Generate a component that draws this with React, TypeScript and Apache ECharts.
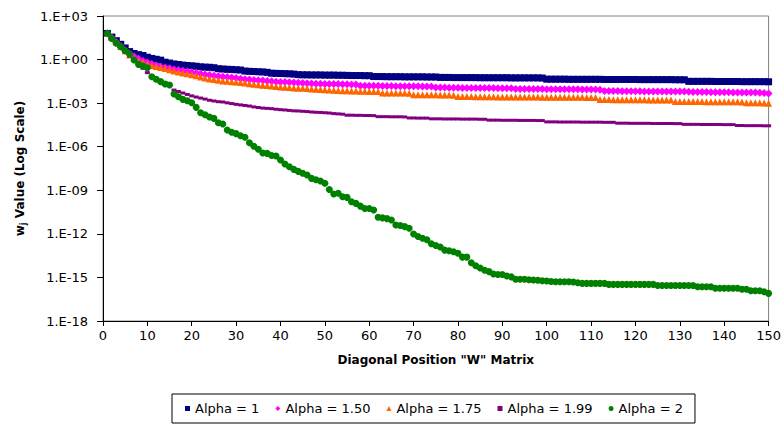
import React, { useEffect, useRef } from "react";
import * as echarts from "echarts";

// Series names (legend)
const seriesNames = ["Alpha = 1", "Alpha = 1.50", "Alpha = 1.75", "Alpha = 1.99", "Alpha = 2"];

// x tick values
const xTicks = [0, 10, 20, 30, 40, 50, 60, 70, 80, 90, 100, 110, 120, 130, 140, 150];

// log10 of w_j, diagonal positions 1..150
const alpha1Log = [
  1.8, 1.55, 1.3, 1.05, 0.8, 0.55, 0.42, 0.34, 0.28, 0.16,
  0.08, 0.02, -0.04, -0.18, -0.24, -0.3, -0.34, -0.38, -0.41, -0.43,
  -0.46, -0.5, -0.52, -0.53, -0.56, -0.63, -0.65, -0.67, -0.68, -0.7,
  -0.72, -0.79, -0.81, -0.82, -0.84, -0.85, -0.88, -0.94, -0.95, -0.96,
  -0.97, -0.98, -1.0, -1.04, -1.05, -1.05, -1.06, -1.06, -1.06, -1.07,
  -1.07, -1.07, -1.08, -1.08, -1.09, -1.1, -1.1, -1.1, -1.11, -1.11,
  -1.17, -1.17, -1.17, -1.18, -1.18, -1.18, -1.18, -1.19, -1.19, -1.19,
  -1.19, -1.19, -1.2, -1.2, -1.2, -1.23, -1.23, -1.23, -1.24, -1.24,
  -1.24, -1.24, -1.24, -1.24, -1.25, -1.25, -1.25, -1.25, -1.25, -1.25,
  -1.25, -1.26, -1.26, -1.26, -1.26, -1.26, -1.26, -1.26, -1.27, -1.35,
  -1.35, -1.35, -1.35, -1.35, -1.36, -1.36, -1.36, -1.36, -1.36, -1.36,
  -1.36, -1.36, -1.37, -1.37, -1.37, -1.37, -1.37, -1.37, -1.37, -1.37,
  -1.38, -1.38, -1.38, -1.38, -1.38, -1.38, -1.38, -1.38, -1.39, -1.39,
  -1.39, -1.5, -1.5, -1.5, -1.5, -1.5, -1.5, -1.51, -1.51, -1.51,
  -1.51, -1.51, -1.51, -1.52, -1.52, -1.52, -1.52, -1.52, -1.52, -1.53,
];

const alpha150Log = [
  1.8, 1.5, 1.2, 0.92, 0.62, 0.38, 0.22, 0.05, -0.1, -0.2,
  -0.3, -0.4, -0.5, -0.55, -0.6, -0.68, -0.72, -0.77, -0.82, -0.87,
  -0.92, -0.97, -1.02, -1.07, -1.12, -1.15, -1.18, -1.2, -1.23, -1.27,
  -1.32, -1.36, -1.38, -1.4, -1.42, -1.44, -1.47, -1.5, -1.52, -1.54,
  -1.55, -1.56, -1.58, -1.6, -1.61, -1.63, -1.65, -1.66, -1.67, -1.68,
  -1.68, -1.69, -1.69, -1.7, -1.7, -1.71, -1.72, -1.8, -1.8, -1.81,
  -1.81, -1.81, -1.82, -1.82, -1.82, -1.83, -1.83, -1.83, -1.84, -1.84,
  -1.84, -1.85, -1.85, -1.86, -1.93, -1.93, -1.93, -1.94, -1.94, -1.94,
  -1.95, -1.95, -1.95, -1.95, -1.96, -1.96, -1.96, -1.96, -1.97, -1.97,
  -1.97, -1.98, -2.02, -2.02, -2.02, -2.03, -2.03, -2.03, -2.03, -2.04,
  -2.04, -2.04, -2.04, -2.05, -2.05, -2.05, -2.05, -2.06, -2.06, -2.06,
  -2.06, -2.07, -2.17, -2.17, -2.17, -2.17, -2.18, -2.18, -2.18, -2.18,
  -2.18, -2.19, -2.19, -2.19, -2.19, -2.19, -2.2, -2.2, -2.2, -2.2,
  -2.2, -2.21, -2.24, -2.24, -2.24, -2.24, -2.25, -2.25, -2.25, -2.25,
  -2.25, -2.26, -2.26, -2.26, -2.26, -2.27, -2.27, -2.28, -2.3, -2.33,
];

const alpha175Log = [
  1.8, 1.5, 1.2, 0.9, 0.6, 0.32, 0.08, -0.1, -0.2, -0.3,
  -0.4, -0.47, -0.55, -0.62, -0.7, -0.78, -0.85, -0.92, -0.98, -1.05,
  -1.12, -1.2, -1.27, -1.33, -1.38, -1.43, -1.47, -1.5, -1.52, -1.55,
  -1.58, -1.62, -1.66, -1.7, -1.73, -1.76, -1.79, -1.82, -1.85, -1.88,
  -1.91, -1.93, -1.95, -1.97, -1.98, -2.0, -2.02, -2.04, -2.06, -2.08,
  -2.1, -2.11, -2.13, -2.14, -2.15, -2.17, -2.17, -2.18, -2.18, -2.19,
  -2.19, -2.2, -2.3, -2.3, -2.3, -2.31, -2.31, -2.31, -2.32, -2.42,
  -2.42, -2.42, -2.43, -2.43, -2.43, -2.44, -2.44, -2.44, -2.45, -2.55,
  -2.55, -2.55, -2.55, -2.56, -2.56, -2.56, -2.56, -2.56, -2.57, -2.57,
  -2.57, -2.57, -2.57, -2.58, -2.58, -2.58, -2.58, -2.58, -2.59, -2.59,
  -2.59, -2.59, -2.59, -2.6, -2.6, -2.6, -2.6, -2.6, -2.61, -2.61,
  -2.61, -2.75, -2.75, -2.75, -2.76, -2.76, -2.76, -2.76, -2.77, -2.77,
  -2.77, -2.77, -2.78, -2.78, -2.78, -2.78, -2.79, -2.79, -2.88, -2.88,
  -2.88, -2.89, -2.89, -2.89, -2.89, -2.9, -2.9, -2.9, -2.9, -2.91,
  -2.91, -2.91, -2.91, -2.92, -2.97, -2.97, -2.98, -2.98, -2.99, -3.0,
];

const alpha199Log = [
  1.8, 1.48, 1.15, 0.85, 0.55, 0.25, 0.0, -0.3, -0.6, -0.9,
  -1.2, -1.4, -1.5, -1.6, -1.75, -2.1, -2.2, -2.3, -2.4, -2.5,
  -2.58, -2.65, -2.72, -2.8, -2.85, -2.9, -2.92, -2.98, -3.03, -3.08,
  -3.12, -3.16, -3.2, -3.26, -3.3, -3.34, -3.36, -3.38, -3.42, -3.45,
  -3.47, -3.5, -3.53, -3.54, -3.56, -3.58, -3.61, -3.63, -3.64, -3.66,
  -3.68, -3.72, -3.74, -3.76, -3.83, -3.83, -3.84, -3.84, -3.85, -3.85,
  -3.86, -3.93, -3.93, -3.93, -3.94, -3.94, -3.94, -3.95, -4.02, -4.02,
  -4.03, -4.03, -4.03, -4.08, -4.08, -4.08, -4.09, -4.09, -4.09, -4.09,
  -4.1, -4.1, -4.1, -4.1, -4.11, -4.11, -4.17, -4.17, -4.17, -4.18,
  -4.18, -4.18, -4.18, -4.19, -4.19, -4.19, -4.19, -4.2, -4.2, -4.29,
  -4.29, -4.29, -4.3, -4.3, -4.3, -4.3, -4.3, -4.31, -4.31, -4.31,
  -4.31, -4.31, -4.32, -4.32, -4.32, -4.38, -4.38, -4.38, -4.39, -4.39,
  -4.39, -4.39, -4.39, -4.4, -4.4, -4.4, -4.4, -4.4, -4.41, -4.41,
  -4.46, -4.46, -4.46, -4.46, -4.47, -4.47, -4.47, -4.47, -4.47, -4.48,
  -4.48, -4.48, -4.54, -4.54, -4.55, -4.55, -4.55, -4.55, -4.56, -4.56,
];

const alpha2Log = [
  1.81, 1.46, 1.12, 0.89, 0.61, 0.38, -0.03, -0.33, -0.44, -0.56,
  -1.18, -1.36, -1.52, -1.68, -1.75, -2.37, -2.56, -2.74, -2.83, -2.97,
  -3.29, -3.66, -3.8, -3.95, -4.05, -4.35, -4.44, -4.85, -5.0, -5.1,
  -5.25, -5.35, -5.73, -5.97, -6.17, -6.43, -6.46, -6.6, -6.64, -6.92,
  -7.19, -7.38, -7.56, -7.7, -7.83, -7.95, -8.18, -8.28, -8.36, -8.52,
  -8.94, -9.26, -9.21, -9.44, -9.49, -9.79, -9.9, -10.09, -10.25, -10.25,
  -10.36, -10.86, -10.9, -10.95, -11.05, -11.39, -11.42, -11.5, -11.62, -12.01,
  -12.18, -12.3, -12.4, -12.68, -12.8, -12.9, -13.12, -13.16, -13.23, -13.34,
  -13.6, -13.6, -13.99, -14.2, -14.35, -14.5, -14.6, -14.77, -14.8, -14.8,
  -14.9, -14.96, -15.13, -15.12, -15.13, -15.16, -15.18, -15.2, -15.23, -15.25,
  -15.28, -15.3, -15.3, -15.3, -15.3, -15.32, -15.37, -15.41, -15.41, -15.41,
  -15.41, -15.41, -15.41, -15.48, -15.48, -15.48, -15.48, -15.48, -15.48, -15.48,
  -15.48, -15.48, -15.48, -15.48, -15.55, -15.55, -15.55, -15.55, -15.55, -15.55,
  -15.55, -15.55, -15.55, -15.64, -15.64, -15.64, -15.64, -15.75, -15.75, -15.75,
  -15.75, -15.75, -15.75, -15.82, -15.82, -15.92, -15.92, -15.92, -15.99, -16.1,
];

const seriesLogs = [alpha1Log, alpha150Log, alpha175Log, alpha199Log, alpha2Log];
const colors = ["#000080", "#FF00FF", "#FF6600", "#800080", "#008000"];
const symbols = ["rect", "diamond", "triangle", "rect", "circle"];
const symbolSizes: any[] = [7, 8, 7, [5, 3], 7];

const FONT = "DejaVu Sans";

function fmtLog(v: number): string {
  const e = Math.round(Math.log10(v));
  const a = Math.abs(e);
  return "1.E" + (e < 0 ? "-" : "+") + (a < 10 ? "0" + a : String(a));
}

export default function App() {
  const ref = useRef<HTMLDivElement>(null);
  useEffect(() => {
    if (!ref.current) return;
    const chart = echarts.init(ref.current, null, { renderer: "svg" });
    const series = seriesNames.map((name, k) => ({
      name,
      type: "scatter",
      symbol: symbols[k],
      symbolSize: symbolSizes[k],
      itemStyle: { color: colors[k], opacity: 1 },
      emphasis: { disabled: true },
      data: seriesLogs[k].map((v, i) => [i + 1, Math.pow(10, v)]),
      z: 2 + k,
    }));
    chart.setOption({
      animation: false,
      backgroundColor: "#ffffff",
      textStyle: { fontFamily: FONT },
      grid: {
        left: 103,
        right: 14,
        top: 16,
        bottom: 106,
        show: true,
        borderColor: "#808080",
        borderWidth: 1,
        backgroundColor: "transparent",
      },
      legend: {
        left: 172,
        top: 394,
        orient: "horizontal",
        padding: [8, 12, 8, 13],
        borderColor: "#000000",
        borderWidth: 1,
        itemWidth: 5,
        itemHeight: 5,
        itemGap: 16,
        itemStyle: { opacity: 1 },
        textStyle: { fontFamily: FONT, fontSize: 13, color: "#000000" },
        data: seriesNames.map((n, k) => ({ name: n, icon: symbols[k] })),
      },
      xAxis: {
        type: "value",
        min: xTicks[0],
        max: xTicks[xTicks.length - 1],
        interval: 10,
        name: 'Diagonal Position "W" Matrix',
        nameLocation: "middle",
        nameGap: 33,
        nameTextStyle: { fontFamily: FONT, fontSize: 12, fontWeight: "bold", color: "#000" },
        axisLine: { show: true, lineStyle: { color: "#000", width: 1 } },
        axisTick: { show: true, length: 5, lineStyle: { color: "#000" } },
        axisLabel: { margin: 8, fontFamily: FONT, fontSize: 13, color: "#000" },
        splitLine: { show: false },
      },
      yAxis: {
        type: "log",
        logBase: 1000,
        min: 1e-18,
        max: 1e3,
        name: "{m|w}{s|j}{m| Value (Log Scale)}",
        nameLocation: "middle",
        nameGap: 76,
        nameRotate: 90,
        nameTextStyle: {
          fontFamily: FONT,
          fontSize: 12,
          fontWeight: "bold",
          color: "#000",
          rich: {
            m: { fontFamily: FONT, fontSize: 12, fontWeight: "bold", color: "#000" },
            s: { fontFamily: FONT, fontSize: 8, fontWeight: "bold", color: "#000", padding: [6, 0, 0, 0] },
          },
        },
        axisLine: { show: true, lineStyle: { color: "#000", width: 1 } },
        axisTick: { show: true, length: 6, lineStyle: { color: "#000" } },
        axisLabel: {
          margin: 15,
          fontFamily: FONT,
          fontSize: 13,
          color: "#000",
          showMinLabel: true,
          showMaxLabel: true,
          formatter: (v: number) => fmtLog(v),
        },
        splitLine: { show: false },
      },
      series,
    });
    return () => chart.dispose();
  }, []);
  return (
    <div
      ref={ref}
      style={{ position: "fixed", left: 0, top: 0, width: 784, height: 427, background: "#fff" }}
    />
  );
}
